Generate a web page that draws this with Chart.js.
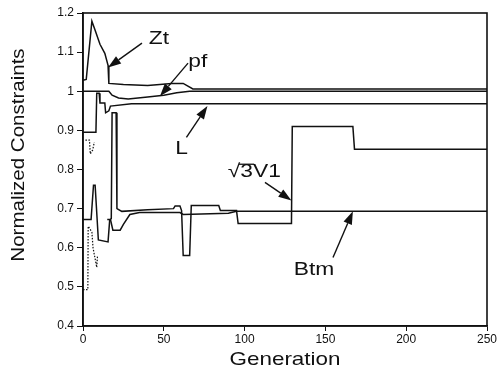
<!DOCTYPE html>
<html>
<head>
  <meta http-equiv="content-type" content="text/html; charset=utf-8"/>
  <script src="https://cdn.jsdelivr.net/npm/chart.js@4/dist/chart.umd.min.js"></script>
  <style>
    body { margin: 0; background: #fff; }
  </style>
</head>
<body>
<canvas id="chart" width="503" height="384"></canvas>

<script>
    // generation / value pairs
    const ztGen = [0, 2, 5.5, 7.5, 10.5, 13.5, 15.5, 16, 25, 40, 55, 62, 68, 250];
    const ztVal = [1.028, 1.03, 1.179, 1.156, 1.12, 1.097, 1.066, 1.02, 1.017, 1.015, 1.02, 1.02, 1.006, 1.006];

    const pfGen = [0, 16, 18, 22, 28, 40, 50, 58, 66, 250];
    const pfVal = [1.0, 1.0, 0.99, 0.983, 0.98, 0.985, 0.99, 0.996, 1.0, 1.0];

    const lGen = [0, 8, 8.5, 10, 10.5, 13.5, 14, 16, 17, 30, 250];
    const lVal = [0.895, 0.895, 0.995, 0.995, 0.97, 0.97, 0.945, 0.95, 0.962, 0.968, 0.968];

    const v1Gen = [0, 5, 6.5, 7.5, 9.5, 15.5, 16.5, 17.5, 18, 20.5, 21, 24, 40, 56, 57, 60, 61, 62, 66, 67, 84, 85, 95, 96, 129, 129.5, 167, 168, 250];
    const v1Val = [0.672, 0.672, 0.76, 0.76, 0.62, 0.615, 0.67, 0.675, 0.945, 0.945, 0.70, 0.693, 0.697, 0.70, 0.707, 0.707, 0.695, 0.58, 0.58, 0.708, 0.708, 0.695, 0.695, 0.662, 0.662, 0.91, 0.91, 0.852, 0.852];

    const btmGen = [15, 17, 18.5, 23, 25, 29, 35, 60, 62, 90, 95, 250];
    const btmVal = [0.672, 0.672, 0.645, 0.645, 0.66, 0.685, 0.69, 0.69, 0.685, 0.688, 0.693, 0.693];

    // faint dotted traces in the first few generations
    const dotLowGen = [0, 3, 3.2, 5.5, 6.2, 8.5, 9];
    const dotLowVal = [0.493, 0.493, 0.655, 0.64, 0.60, 0.55, 0.58];
    const dotHighGen = [1.5, 4, 4.5, 6, 7];
    const dotHighVal = [0.875, 0.875, 0.84, 0.85, 0.87];

    const yTicks = [0.4, 0.5, 0.6, 0.7, 0.8, 0.9, 1, 1.1, 1.2];
    const xTicks = [0, 50, 100, 150, 200, 250];

    // callouts: label, text position, arrow tail, arrow tip (data units)
    const notes = [
        { text: 'Zt', at: [47, 1.135], from: [36.5, 1.123], to: [15.5, 1.061] },
        { text: 'pf', at: [71, 1.075], from: [65, 1.072], to: [47.6, 0.987] },
        { text: 'L', at: [61, 0.854], from: [64, 0.882], to: [77, 0.962] },
        { text: '√3V1', at: [106, 0.793], from: [112.6, 0.767], to: [129, 0.721] },
        { text: 'Btm', at: [143, 0.545], from: [154.7, 0.575], to: [167, 0.693] }
    ];

    function pts(xs, ys) {
        return xs.map((x, i) => ({ x: x, y: ys[i] }));
    }

    function line(label, xs, ys, dash) {
        return {
            label: label,
            data: pts(xs, ys),
            borderColor: '#111',
            borderWidth: dash ? 1.2 : 1.5,
            borderDash: dash ? [1.5, 1.5] : [],
            pointRadius: 0,
            tension: 0,
            fill: false
        };
    }

    // scanned lettering is a bit wider than the font, so stretch it along the text
    function stretched(ctx, text, x, y, sx, rot) {
        ctx.save();
        ctx.translate(x, y);
        if (rot) ctx.rotate(rot);
        ctx.scale(sx, 1);
        ctx.fillText(text, 0, 0);
        if (text.startsWith('√')) {
            const w = ctx.measureText(text).width;
            const r = ctx.measureText('√').width;
            const three = ctx.measureText('3').width;
            ctx.lineWidth = 1.3;
            ctx.beginPath();
            ctx.moveTo(-w / 2 + r - 1, -8);
            ctx.lineTo(-w / 2 + r + three + 1, -8);
            ctx.stroke();
        }
        ctx.restore();
    }

    const frame = {
        id: 'frame',
        afterDraw(chart) {
            const ctx = chart.ctx;
            const a = chart.chartArea;
            const xs = chart.scales.x, ys = chart.scales.y;
            ctx.save();
            ctx.strokeStyle = '#111';
            ctx.lineWidth = 1.6;
            ctx.strokeRect(a.left, a.top, a.right - a.left, a.bottom - a.top);

            // axis titles
            ctx.fillStyle = '#111';
            ctx.textAlign = 'center';
            ctx.textBaseline = 'middle';
            ctx.font = '19px "Liberation Sans", Arial, sans-serif';
            stretched(ctx, 'Generation', (a.left + a.right) / 2, 360, 1.18);
            stretched(ctx, 'Normalized Constraints', 19, 155, 1.08, -Math.PI / 2);

            // callouts
            ctx.font = '19px "Liberation Sans", Arial, sans-serif';
            ctx.lineWidth = 1.4;
            notes.forEach(n => {
                const tx = xs.getPixelForValue(n.at[0]), ty = ys.getPixelForValue(n.at[1]);
                stretched(ctx, n.text, tx, ty, 1.2);
                const x0 = xs.getPixelForValue(n.from[0]), y0 = ys.getPixelForValue(n.from[1]);
                const x1 = xs.getPixelForValue(n.to[0]), y1 = ys.getPixelForValue(n.to[1]);
                const ang = Math.atan2(y1 - y0, x1 - x0);
                const hl = 13, hw = 4.5;
                const bx = x1 - hl * Math.cos(ang), by = y1 - hl * Math.sin(ang);
                ctx.beginPath();
                ctx.moveTo(x0, y0);
                ctx.lineTo(bx, by);
                ctx.stroke();
                ctx.beginPath();
                ctx.moveTo(x1, y1);
                ctx.lineTo(bx + hw * Math.sin(ang), by - hw * Math.cos(ang));
                ctx.lineTo(bx - hw * Math.sin(ang), by + hw * Math.cos(ang));
                ctx.closePath();
                ctx.fill();
            });
            ctx.restore();
        }
    };

    const tickFont = { family: '"Liberation Sans", Arial, sans-serif', size: 12 };

    new Chart(document.getElementById('chart'), {
        type: 'line',
        data: {
            datasets: [
                line('Zt', ztGen, ztVal),
                line('pf', pfGen, pfVal),
                line('L', lGen, lVal),
                line('√3V1', v1Gen, v1Val),
                line('Btm', btmGen, btmVal),
                line('early low', dotLowGen, dotLowVal, true),
                line('early high', dotHighGen, dotHighVal, true)
            ]
        },
        options: {
            responsive: false,
            animation: false,
            layout: { padding: { top: 13, right: 16, left: 0, bottom: 0 } },
            plugins: { legend: { display: false }, tooltip: { enabled: false } },
            scales: {
                x: {
                    type: 'linear',
                    min: 0,
                    max: 250,
                    afterBuildTicks: s => { s.ticks = xTicks.map(v => ({ value: v })); },
                    afterFit: s => { s.height = 58; },
                    ticks: { color: '#111', font: tickFont, padding: 1, maxRotation: 0 },
                    grid: { drawOnChartArea: false, color: '#111', tickLength: 5 },
                    border: { color: '#111', width: 1.6 }
                },
                y: {
                    min: 0.4,
                    max: 1.2,
                    afterBuildTicks: s => { s.ticks = yTicks.map(v => ({ value: v })); },
                    afterFit: s => { s.width = 83; },
                    ticks: {
                        color: '#111',
                        font: tickFont,
                        padding: 3,
                        callback: v => String(Number(v.toFixed(1)))
                    },
                    grid: { drawOnChartArea: false, color: '#111', tickLength: 6 },
                    border: { color: '#111', width: 1.6 }
                }
            }
        },
        plugins: [frame]
    });
</script>
</body>
</html>
